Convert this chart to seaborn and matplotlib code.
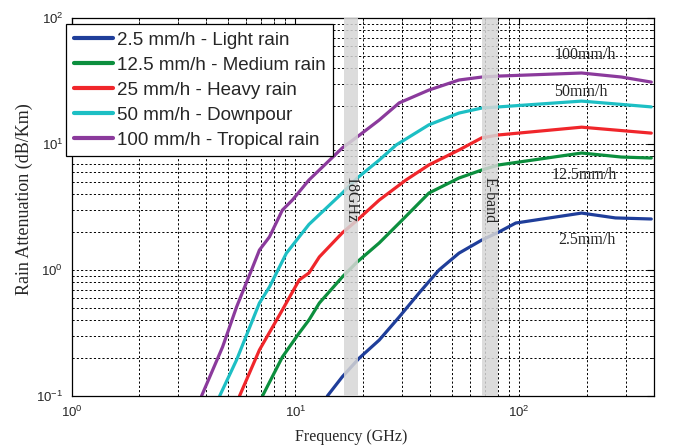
"""
Rain attenuation vs frequency for five rain rates (log-log), with the
18 GHz and E-band windows shaded.
"""

import matplotlib
matplotlib.use('Agg')
import matplotlib.pyplot as plt
import numpy as np
import pandas as pd
import seaborn as sns

# ---------------------------------------------------------------------------
# Data
# ---------------------------------------------------------------------------

freq_light  = [13.9, 16.2, 19.3, 23.7, 29.1, 35.7, 43.8, 53.8, 68.1, 81.0, 96.5, 190, 269, 389]
att_light   = [0.10, 0.142, 0.20, 0.278, 0.424, 0.657, 1.0, 1.36, 1.73, 2.0, 2.36, 2.83, 2.59, 2.54]

freq_medium = [7.13, 8.75, 10.4, 11.5, 12.8, 16.2, 18.9, 23.7, 30.0, 39.5, 53.8, 68.1, 81.0, 190, 286, 389]
att_medium  = [0.10, 0.204, 0.316, 0.401, 0.547, 0.88, 1.16, 1.64, 2.49, 4.08, 5.37, 6.22, 6.82, 8.48, 7.88, 7.74]

freq_heavy  = [5.63, 6.91, 8.75, 10.4, 11.5, 12.8, 16.2, 18.9, 23.7, 31.2, 39.5, 53.8, 68.1, 81.0, 190, 389]
att_heavy   = [0.10, 0.232, 0.482, 0.833, 0.947, 1.27, 1.97, 2.49, 3.59, 5.18, 6.82, 8.96, 11.2, 11.8, 13.6, 12.2]

freq_pour   = [4.59, 5.46, 6.91, 7.66, 9.12, 11.5, 16.2, 18.9, 23.7, 28.2, 39.5, 53.8, 68.1, 81.0, 190, 389]
att_pour    = [0.10, 0.193, 0.547, 0.733, 1.36, 2.3, 4.08, 5.37, 7.46, 9.82, 14.2, 17.6, 19.3, 19.7, 21.9, 19.7]

freq_trop   = [3.81, 4.73, 5.46, 6.37, 6.91, 7.66, 8.75, 9.70, 11.5, 16.2, 18.9, 23.7, 29.1, 39.5, 53.8, 68.1, 81.0, 190, 286, 389]
att_trop    = [0.10, 0.245, 0.508, 1.0, 1.44, 1.83, 2.99, 3.59, 5.18, 9.3, 11.4, 15.5, 21.2, 26.8, 32.2, 34.0, 34.6, 36.6, 34.0, 31.0]

series_labels = ['2.5 mm/h - Light rain', '12.5 mm/h - Medium rain', '25 mm/h - Heavy rain',
                 '50 mm/h - Downpour', '100 mm/h - Tropical rain']
series_colors = ['#1f3e9a', '#0c8f3e', '#f0262b', '#1dbfc4', '#8b3a9c']

band_18ghz = (16.5, 19.0)
band_e     = (68.5, 80.0)

curve_labels    = ['100mm/h', '50mm/h', '12.5mm/h', '2.5mm/h']
curve_label_pos = [(198, 50.9), (188, 25.9), (196, 5.68), (200, 1.73)]


# ---------------------------------------------------------------------------
# Figure
# ---------------------------------------------------------------------------

sns.set_style('white')
plt.rcParams['font.family'] = ['Liberation Sans', 'DejaVu Sans']
plt.rcParams['mathtext.default'] = 'regular'

frames = []
for lab, f, a in zip(series_labels,
                     [freq_light, freq_medium, freq_heavy, freq_pour, freq_trop],
                     [att_light, att_medium, att_heavy, att_pour, att_trop]):
    frames.append(pd.DataFrame({'freq': f, 'att': a, 'rate': lab}))
df = pd.concat(frames, ignore_index=True)

fig = plt.figure(figsize=(6.75, 4.47), dpi=100)
ax  = fig.add_axes([71.5 / 675, 1 - 396 / 447, (654 - 71.5) / 675, (396 - 18) / 447])

sns.lineplot(data=df, x='freq', y='att', hue='rate', hue_order=series_labels,
             palette=series_colors, linewidth=2.3, sort=False, estimator=None,
             ax=ax, zorder=2)

ax.set_xscale('log')
ax.set_yscale('log')
ax.set_xlim(1, 400)
ax.set_ylim(0.1, 100)

ax.grid(True, which='both', color='black', linestyle=(0, (2.2, 2.2)), linewidth=0.7)
ax.tick_params(which='both', direction='in', top=True, right=True, labelsize=9.5,
               color='black', pad=6)
ax.tick_params(which='major', length=5)
ax.tick_params(which='minor', length=2.5)
for s in ax.spines.values():
    s.set_color('black')
    s.set_linewidth(0.9)

for lo, hi in (band_18ghz, band_e):
    ax.axvspan(lo, hi, color='#d6d6d6', alpha=0.85, lw=0, zorder=3)

serif = ['Liberation Serif', 'DejaVu Serif']
ax.text(np.sqrt(band_18ghz[0] * band_18ghz[1]), 5.5, '18GHz', rotation=270,
        ha='center', va='top', family=serif, fontsize=11.5, zorder=4)
ax.text(np.sqrt(band_e[0] * band_e[1]), 5.5, 'E-band', rotation=270,
        ha='center', va='top', family=serif, fontsize=11.5, zorder=4)

for txt, (x, y) in zip(curve_labels, curve_label_pos):
    ax.text(x, y, txt, ha='center', va='center', family=serif,
            fontsize=11.5, zorder=4)

ax.set_xlabel('Frequency (GHz)', family=serif, fontsize=11.5)
ax.set_ylabel('Rain Attenuation (dB/Km)', family=serif, fontsize=13)
ax.xaxis.set_label_coords(0.48, -0.088)
ax.yaxis.set_label_coords(-0.066, 0.521)

handles, labels = ax.get_legend_handles_labels()
leg = ax.legend(handles, labels, loc='upper left',
                bbox_to_anchor=(66 / 675, 1 - 24 / 447), bbox_transform=fig.transFigure,
                fontsize=13.5, frameon=True, fancybox=False, framealpha=1,
                edgecolor='black', borderpad=0.4, labelspacing=0.42,
                handlelength=2.1, handletextpad=0.2, borderaxespad=0)
leg.get_frame().set_linewidth(0.9)
leg.set_zorder(5)
for line in leg.get_lines():
    line.set_linewidth(3)

fig.savefig('out.png', dpi=100)
